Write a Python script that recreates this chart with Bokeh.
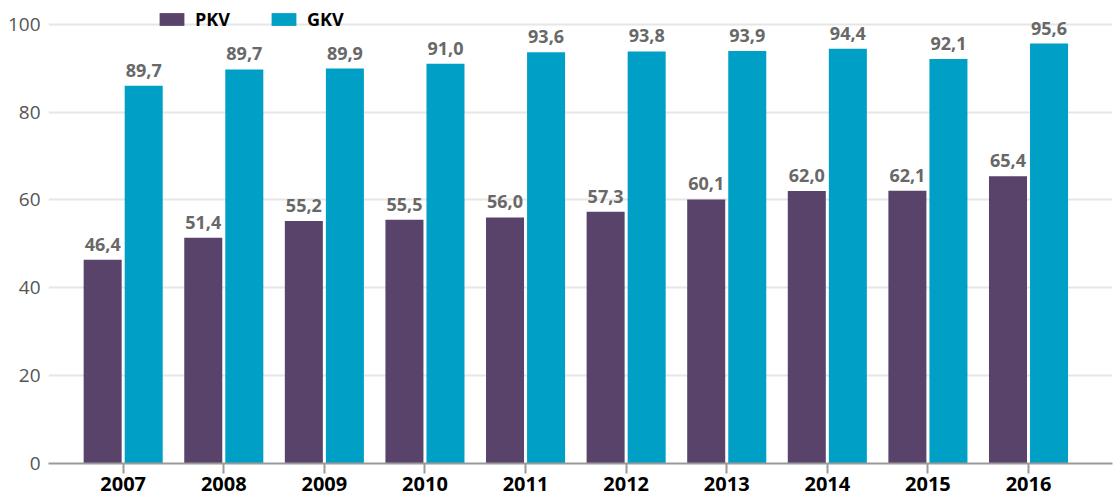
from bokeh.plotting import figure
from bokeh.models import FixedTicker, Legend, LegendItem, Range1d, ColumnDataSource
from bokeh.core.properties import value
from bokeh.transform import dodge
from bokeh.embed import file_html
from bokeh.resources import INLINE

years = [2007, 2008, 2009, 2010, 2011, 2012, 2013, 2014, 2015, 2016]
pkv = [46.4, 51.4, 55.2, 55.5, 56.0, 57.3, 60.1, 62.0, 62.1, 65.4]
gkv = [86.0, 89.7, 89.9, 91.0, 93.6, 93.8, 93.9, 94.4, 92.1, 95.6]
pkv_labels = ["46,4", "51,4", "55,2", "55,5", "56,0", "57,3", "60,1", "62,0", "62,1", "65,4"]
gkv_labels = ["89,7", "89,7", "89,9", "91,0", "93,6", "93,8", "93,9", "94,4", "92,1", "95,6"]
series_names = ["PKV", "GKV"]
y_ticks = [0, 20, 40, 60, 80, 100]

FONT = "Open Sans"
C_PKV = "#59436B"
C_GKV = "#00A0C6"

src = ColumnDataSource(dict(x=years, pkv=pkv, gkv=gkv, pl=pkv_labels, gl=gkv_labels))

p = figure(width=1117, height=503, output_backend="svg", toolbar_location=None,
           x_range=Range1d(2006.2575, 2016.835), y_range=Range1d(0, 105.39),
           min_border_left=48, min_border_right=5, min_border_top=0, min_border_bottom=40)
p.outline_line_color = None
p.background_fill_color = "white"
p.border_fill_color = "white"

off = 0.204
w = 0.378
r1 = p.vbar(x=dodge("x", -off, range=p.x_range), top="pkv", width=w, bottom=0,
            source=src, fill_color=C_PKV, line_color=None)
r2 = p.vbar(x=dodge("x", off, range=p.x_range), top="gkv", width=w, bottom=0,
            source=src, fill_color=C_GKV, line_color=None)

for col, lab, o in (("pkv", "pl", -off), ("gkv", "gl", off)):
    p.text(x=dodge("x", o, range=p.x_range), y=col, text=lab, source=src,
           y_offset=-9, text_align="center", text_baseline="bottom",
           text_font=value(FONT), text_font_size="18px", text_font_style="bold",
           text_color="#686868")

# axes
p.xaxis.ticker = FixedTicker(ticks=years)
p.xaxis.axis_line_color = "#9a9a9a"
p.xaxis.axis_line_width = 2
p.xaxis.major_tick_in = 0
p.xaxis.major_tick_out = 10
p.xaxis.major_tick_line_color = "#9a9a9a"
p.xaxis.major_tick_line_width = 2
p.xaxis.minor_tick_out = 0
p.xaxis.minor_tick_in = 0
p.xaxis.major_label_standoff = 3
p.xaxis.major_label_text_font = FONT
p.xaxis.major_label_text_font_size = "20px"
p.xaxis.major_label_text_font_style = "bold"
p.xaxis.major_label_text_color = "black"

p.yaxis.ticker = FixedTicker(ticks=y_ticks)
p.yaxis.axis_line_color = None
p.yaxis.major_tick_out = 0
p.yaxis.major_tick_in = 0
p.yaxis.minor_tick_out = 0
p.yaxis.minor_tick_in = 0
p.yaxis.major_label_standoff = 8
p.yaxis.major_label_text_font = FONT
p.yaxis.major_label_text_font_size = "19px"
p.yaxis.major_label_text_color = "#555555"

p.xgrid.grid_line_color = None
p.ygrid.ticker = FixedTicker(ticks=[20, 40, 60, 80, 100])
p.ygrid.grid_line_color = "#e6e6e6"
p.ygrid.grid_line_width = 2

legend = Legend(items=[LegendItem(label=series_names[0], renderers=[r1]),
                       LegendItem(label=series_names[1], renderers=[r2])],
                orientation="horizontal", location=(108, 432),
                glyph_width=31, glyph_height=16, label_standoff=8, spacing=38,
                padding=0, margin=0, border_line_color=None, background_fill_alpha=0,
                label_text_font=FONT, label_text_font_style="bold",
                label_text_font_size="18px", label_text_color="black")
p.add_layout(legend)

open("out.html", "w").write(file_html(p, INLINE))
